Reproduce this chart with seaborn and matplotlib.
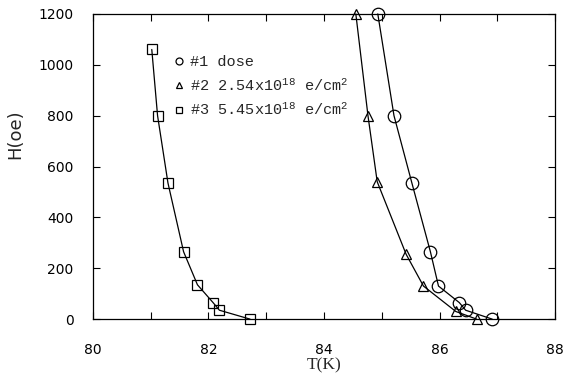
import matplotlib
matplotlib.use("Agg")
import matplotlib.pyplot as plt
from matplotlib.lines import Line2D
import seaborn as sns
import pandas as pd

# Data
t1 = [84.93, 85.21, 85.52, 85.84, 85.98, 86.34, 86.45, 86.91]
h1 = [1200, 800, 535, 265, 130, 65, 35, 0]
t2 = [84.55, 84.76, 84.92, 85.42, 85.72, 86.28, 86.64]
h2 = [1200, 800, 540, 255, 130, 30, 0]
t3 = [81.02, 81.12, 81.30, 81.57, 81.81, 82.08, 82.19, 82.72]
h3 = [1060, 800, 535, 265, 135, 65, 35, 0]
labels = ["#1 dose",
          "#2 2.54x10$^{18}$ e/cm$^{2}$",
          "#3 5.45x10$^{18}$ e/cm$^{2}$"]
xticks = [80, 82, 84, 86, 88]
yticks = [0, 200, 400, 600, 800, 1000, 1200]

sns.set_style("ticks")
plt.rcParams["mathtext.default"] = "regular"

fig = plt.figure(figsize=(5.66, 3.75), dpi=100)
ax = fig.add_axes([0.164, 0.149, 0.817, 0.814])

series = [(t1, h1, "o", 9), (t2, h2, "^", 6.5), (t3, h3, "s", 7.5)]
for t, h, m, ms in series:
    df = pd.DataFrame({"T": t, "H": h})
    sns.lineplot(data=df, x="T", y="H", ax=ax, color="black", lw=0.9,
                 marker=m, markersize=ms, markerfacecolor="none",
                 markeredgecolor="black", markeredgewidth=0.9,
                 sort=False, estimator=None, clip_on=False)

ax.set_xlim(80, 88)
ax.set_ylim(0, 1200)
ax.set_xticks(range(80, 89))
ax.set_xticklabels([str(v) if v in xticks else "" for v in range(80, 89)])
ax.set_yticks(yticks)
ax.tick_params(direction="in", top=True, right=True, length=5, width=0.8,
               labelsize=10, colors="black")
ax.tick_params(axis="x", pad=17)
ax.tick_params(axis="y", pad=14)
for lab in ax.get_xticklabels() + ax.get_yticklabels():
    lab.set_family("DejaVu Sans")
for s in ax.spines.values():
    s.set_linewidth(0.9)
    s.set_color("black")

ax.set_xlabel("T(K)", family="Liberation Serif", fontsize=12.5)
ax.xaxis.set_label_coords(0.5, -0.125)
ax.set_ylabel("H(oe)", family="DejaVu Sans", fontsize=13)
ax.yaxis.set_label_coords(-0.148, 0.607)

handles = [Line2D([], [], ls="none", marker=m, markersize=5,
                  markerfacecolor="none", markeredgecolor="black",
                  markeredgewidth=0.9) for m in ["o", "^", "s"]]
leg = ax.legend(handles, labels, loc="upper left",
                bbox_to_anchor=(0.16, 0.889), frameon=False,
                prop={"family": "Liberation Mono", "size": 11},
                handlelength=0.6, handletextpad=0.4, labelspacing=0.5,
                borderpad=0)

fig.savefig("out.png", dpi=100)
